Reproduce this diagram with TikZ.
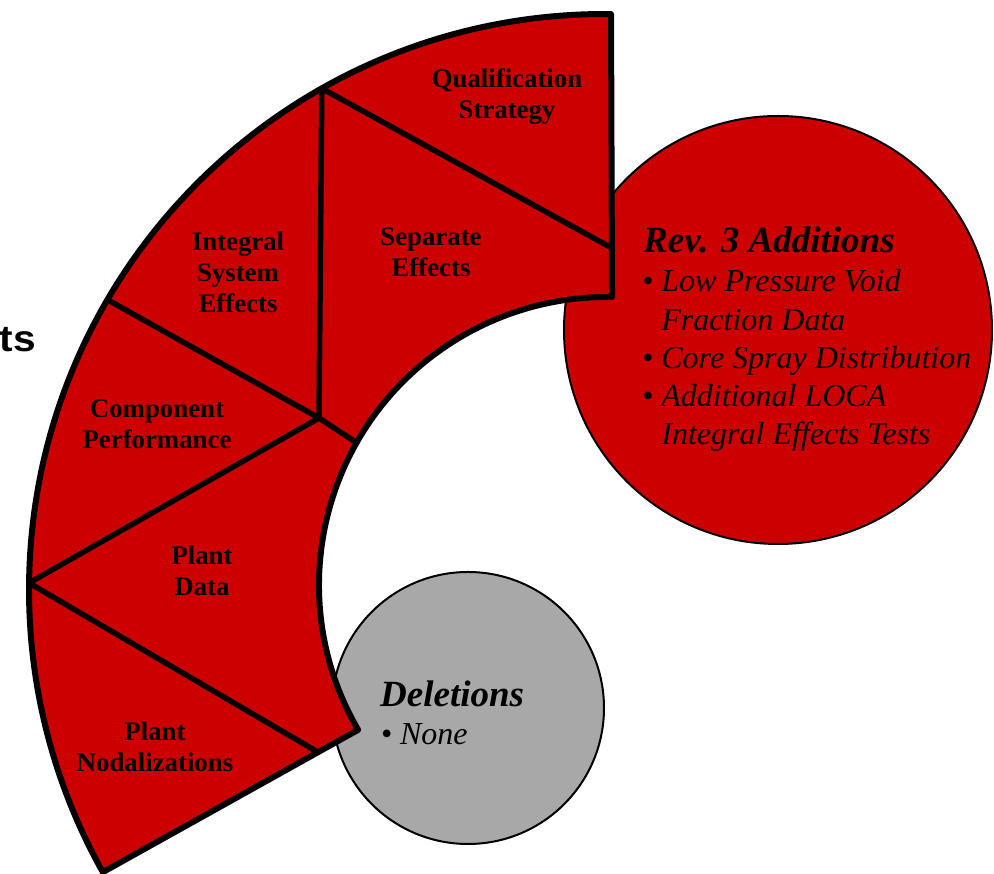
\documentclass[tikz,border=0pt]{standalone}
\usepackage{fontspec}
\setmainfont{Liberation Serif}
\newfontfamily\headsans{Liberation Sans}
\usetikzlibrary{calc}
\definecolor{bandred}{RGB}{205,0,0}
\definecolor{delgray}{RGB}{168,168,168}
\begin{document}
\begin{tikzpicture}[x=1pt,y=1pt,
  band/.style={fill=bandred, draw=black, line width=6pt, line join=round},
  divider/.style={draw=black, line width=5.5pt, line cap=round, line join=round},
  topic/.style={font=\fontsize{26.8}{31}\selectfont\bfseries, align=center, inner sep=0pt, anchor=base},
  bubble/.style={circle, draw=black, line width=2pt, inner sep=0pt},
  bubblehead/.style={font=\fontsize{37}{42}\selectfont\bfseries\itshape, inner sep=0pt, anchor=base west},
  bubbleitem/.style={font=\fontsize{32}{38.3}\selectfont\itshape, align=left, inner sep=0pt, anchor=base west},
]
\useasboundingbox (0,0) rectangle (994,874);

% partial heading at the left margin
\node[font=\headsans\fontsize{37}{42}\selectfont\bfseries, anchor=base east, inner sep=0pt, xscale=1.1] (tsfrag) at (36,522) {ts};

% the two bubbles sit behind the band
\node[bubble, fill=bandred, minimum size=428pt] (addcircle) at (778,544) {};
\node[bubble, fill=delgray, minimum size=272pt] (delcircle) at (468,166) {};

% band geometry
\coordinate (Co) at (605,284);
\coordinate (Ci) at (607,289);
\coordinate (oTop) at ($(Co)+(89.4:576)$);
\coordinate (oBot) at ($(Co)+(209.33:576)$);
\coordinate (iBot) at ($(Ci)+(210.2:288)$);
\coordinate (iTop) at ($(Ci)+(89:288)$);
\coordinate (p1) at ($(Co)+(119.45:576)$);
\coordinate (p4) at ($(Co)+(149.74:576)$);
\coordinate (p6) at ($(Co)+(179.3:576)$);
\coordinate (p2) at ($(oTop)!0.827!(iTop)$);
\coordinate (p3) at (319,456);
\coordinate (p5) at ($(Ci)+(150.4:288)$);
\coordinate (p7) at ($(oBot)!0.843!(iBot)$);

\path[band] (oTop) arc[start angle=89.4, end angle=209.33, radius=576]
  -- (iBot) arc[start angle=210.2, end angle=89, radius=288] -- cycle;

\draw[divider] (p1) -- (p2);
\draw[divider] (p1) -- (p3);
\draw[divider] (p4) -- (p3) -- (p5);
\draw[divider] (p6) -- (p3);
\draw[divider] (p6) -- (p7);

% segment labels (placed by the baseline of their last line)
\node[topic] (qual) at (507,755) {Qualification\\Strategy};
\node[topic] (sep) at (431,597) {Separate\\Effects};
\node[topic] (ise) at (238,561) {Integral\\System\\Effects};
\node[topic] (comp) at (157,425) {Component\\Performance};
\node[topic] (pdata) at (202,278) {Plant\\Data};
\node[topic] (pnod) at (155,102) {Plant\\Nodalizations};

% additions bubble text
\node[bubblehead] (addhead) at (643,621) {Rev. 3 Additions};
\node[bubbleitem] (additems) at (642,429) {%
  \textbullet~Low Pressure Void\\
  \phantom{\textbullet~}Fraction Data\\
  \textbullet~Core Spray Distribution\\
  \textbullet~Additional LOCA\\
  \phantom{\textbullet~}Integral Effects Tests};

% deletions bubble text
\node[bubblehead] (delhead) at (380,167) {Deletions};
\node[bubbleitem] (delitems) at (380.6,129) {\textbullet~None};
\end{tikzpicture}
\end{document}
